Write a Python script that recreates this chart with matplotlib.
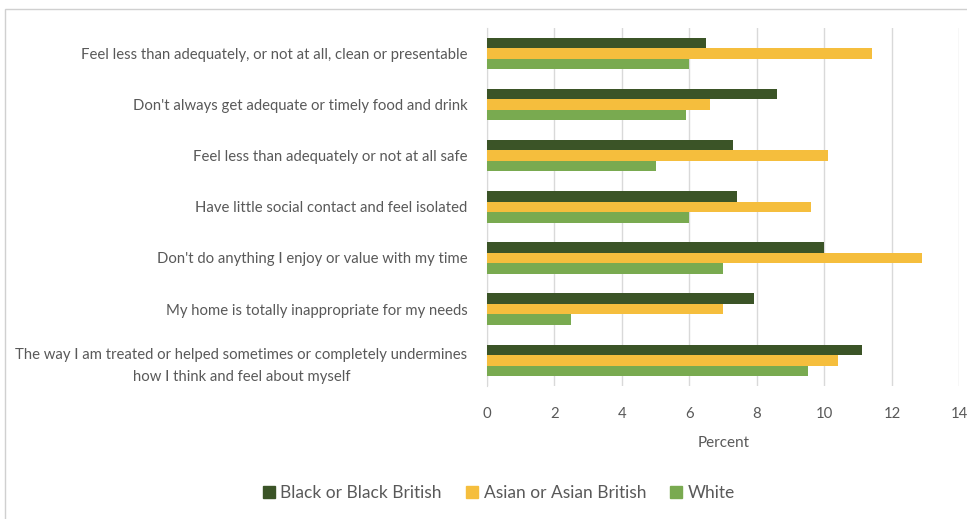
import matplotlib.pyplot as plt
import matplotlib.patches as mpatches
import numpy as np

plt.rcParams['font.family'] = ['Lato', 'DejaVu Sans']

categories = [
    'Feel less than adequately, or not at all, clean or presentable',
    "Don't always get adequate or timely food and drink",
    'Feel less than adequately or not at all safe',
    'Have little social contact and feel isolated',
    "Don't do anything I enjoy or value with my time",
    'My home is totally inappropriate for my needs',
    'The way I am treated or helped sometimes or completely undermines\nhow I think and feel about myself',
]
black = [6.5, 8.6, 7.3, 7.4, 10.0, 7.9, 11.1]
asian = [11.4, 6.6, 10.1, 9.6, 12.9, 7.0, 10.4]
white = [6.0, 5.9, 5.0, 6.0, 7.0, 2.5, 9.5]
series_names = ['Black or Black British', 'Asian or Asian British', 'White']
colors = ['#3B5427', '#F5BE3D', '#79AA50']
xticks = [0, 2, 4, 6, 8, 10, 12, 14]

text_col = '#595959'

fig = plt.figure(figsize=(9.67, 5.19), dpi=100)
fig.patch.set_facecolor('white')
ax = fig.add_axes([0.5036, 0.2564, 0.4886, 0.6902])

y = np.arange(len(categories))
h = 0.205
for i, (vals, name, c) in enumerate(zip([black, asian, white], series_names, colors)):
    ax.barh(y + (i - 1) * h, vals, height=h, color=c, label=name, zorder=3)

ax.set_ylim(len(categories) - 0.5, -0.5)
ax.set_xlim(0, 14)
ax.set_xticks(xticks)
ax.set_yticks(y)
ax.set_yticklabels(categories, multialignment='center', linespacing=1.75)
ax.tick_params(axis='both', length=0, labelsize=10.7, labelcolor=text_col)
ax.tick_params(axis='y', pad=14)
ax.tick_params(axis='x', pad=15)
ax.grid(axis='x', color='#D9D9D9', linewidth=1, zorder=0)
for s in ['top', 'right', 'bottom']:
    ax.spines[s].set_visible(False)
ax.spines['left'].set_color('#D9D9D9')
ax.set_xlabel('Percent', fontsize=11, color=text_col, labelpad=11)

handles = [mpatches.Patch(color=c) for c in colors]
fig.legend(handles, series_names, loc='center', bbox_to_anchor=(0.516, 0.05),
           ncol=3, frameon=False, fontsize=12.5, labelcolor=text_col,
           handlelength=0.7, handleheight=0.7, handletextpad=0.3,
           columnspacing=1.4)

fig.add_artist(mpatches.Rectangle((0.005, -0.1), 1.2, 1.083,
                                  transform=fig.transFigure, fill=False,
                                  edgecolor='#D0D0D0', linewidth=1))

fig.savefig('out.png', dpi=100)
